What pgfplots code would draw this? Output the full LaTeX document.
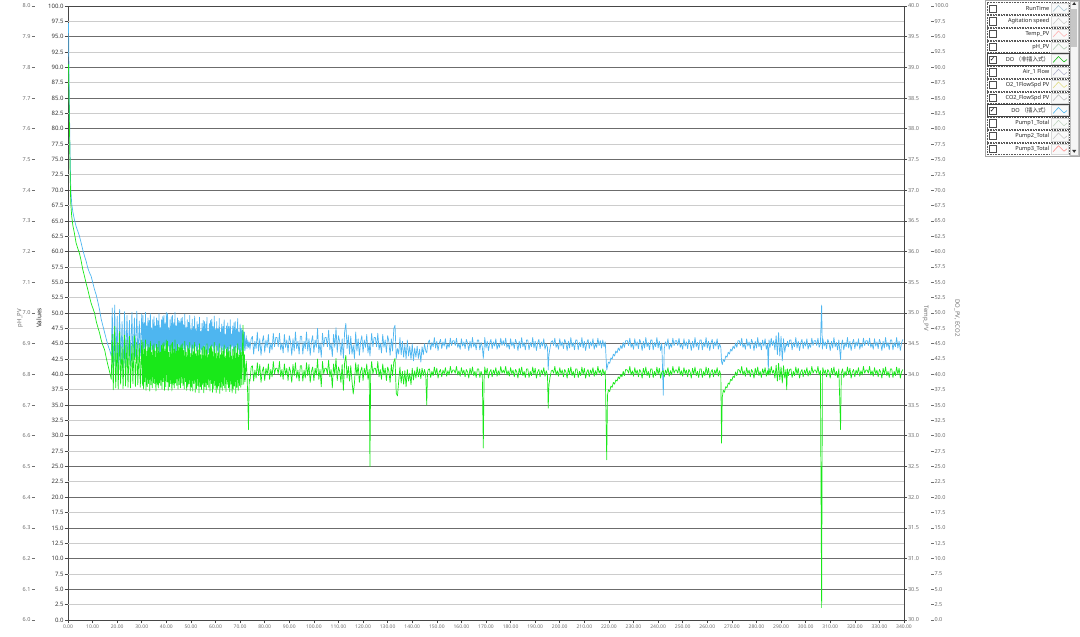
\documentclass[border=0pt]{standalone}
\usepackage{pgfplots}
\pgfplotsset{compat=1.18}
\usepackage{pgfplotstable}
\usepackage{fontspec}
\setmainfont{Noto Sans}
\newfontfamily\cjk{Noto Sans CJK SC}
\newfontfamily\dejavu{DejaVu Sans}
\definecolor{doblue}{RGB}{78,182,240}
\definecolor{dogreen}{RGB}{25,232,25}
\definecolor{axisgray}{RGB}{70,70,70}
\definecolor{labgray}{RGB}{110,110,110}
\pgfplotsset{/pgf/number format/assume math mode=true}

\pgfplotstableread{
x b g
0.2 97.2 90.5
0.5 86.0 83.0
0.8 77.0 74.5
1.1 70.5 68.0
1.5 67.8 65.8
2.0 66.4 64.2
2.6 65.2 63.0
3.3 64.1 61.4
4.0 63.3 60.5
4.6 62.6 59.8
5.3 61.5 58.6
6.0 60.3 57.1
6.7 59.3 56.0
7.4 58.4 54.8
8.0 57.4 53.9
8.7 56.6 52.7
9.4 56.0 51.6
10.1 54.9 50.8
10.8 53.8 50.0
11.5 52.9 48.6
12.2 51.7 47.6
12.8 50.6 46.8
13.5 49.0 45.6
14.2 47.9 44.7
14.9 46.8 44.0
15.6 45.7 42.6
16.3 44.7 41.4
17.0 43.9 40.3
17.6 43.0 39.2
18.0 50.8 46.5
18.4 40.0 37.5
19.0 51.3 47.8
19.4 41.0 37.8
20.0 49.5 45.2
20.4 39.8 37.6
21.0 50.6 47.0
21.4 41.8 38.4
22.0 48.6 44.5
22.4 40.6 37.7
23.0 50.2 46.4
23.4 41.2 38.1
24.0 49.6 45.6
24.4 42.3 37.9
25.0 48.8 46.2
25.4 41.4 37.8
26.0 50.1 45.0
26.4 42.0 38.5
27.0 49.2 46.3
27.4 42.8 38.0
28.0 50.3 45.3
28.4 42.4 38.3
29.0 48.7 44.9
29.4 43.0 37.9
30.0 49.9 45.6
30.25 43.5 38.2
30.50 49.6 45.2
30.75 44.2 37.6
31.00 48.4 44.1
31.25 43.0 38.8
31.50 50.1 45.6
31.75 44.6 37.4
32.00 47.9 43.8
32.25 43.8 38.0
32.50 49.2 44.9
32.75 43.2 38.5
33.00 48.8 44.4
33.25 44.4 37.3
33.50 49.9 45.4
33.75 43.6 38.3
34.00 47.6 43.6
34.25 44.0 37.8
34.50 48.9 44.7
34.75 43.3 38.6
35.00 49.4 45.0
35.25 43.2 38.5
35.50 47.9 43.8
35.75 44.4 37.3
36.00 49.2 44.9
36.25 43.6 38.3
36.50 48.8 44.4
36.75 44.0 37.8
37.00 49.9 45.4
37.25 43.3 38.6
37.50 47.6 43.6
37.75 43.5 38.2
38.00 48.9 44.7
38.25 44.2 37.6
38.50 49.4 45.0
38.75 43.0 38.8
39.00 49.6 45.2
39.25 44.6 37.4
39.50 48.4 44.1
39.75 43.8 38.0
40.00 50.1 45.6
40.25 43.0 38.8
40.50 49.9 45.4
40.75 44.6 37.4
41.00 47.6 43.6
41.25 43.8 38.0
41.50 48.9 44.7
41.75 43.2 38.5
42.00 49.4 45.0
42.25 44.4 37.3
42.50 49.6 45.2
42.75 43.6 38.3
43.00 48.4 44.1
43.25 44.0 37.8
43.50 50.1 45.6
43.75 43.3 38.6
44.00 47.9 43.8
44.25 43.5 38.2
44.50 49.2 44.9
44.75 44.2 37.6
45.00 48.8 44.4
45.25 43.6 38.3
45.50 48.6 44.5
45.75 44.0 37.8
46.00 49.1 44.8
46.25 43.3 38.6
46.50 49.3 45.0
46.75 43.5 38.2
47.00 48.1 43.9
47.25 44.2 37.6
47.50 49.8 45.4
47.75 43.0 38.8
48.00 47.6 43.6
48.25 44.6 37.4
48.50 48.9 44.7
48.75 43.8 38.0
49.00 48.5 44.2
49.25 43.2 38.5
49.50 49.6 45.2
49.75 44.4 37.3
50.00 47.3 43.4
50.25 43.5 37.9
50.50 49.0 44.8
50.75 44.2 37.3
51.00 47.8 43.7
51.25 43.0 38.5
51.50 49.5 45.2
51.75 44.6 37.1
52.00 47.3 43.4
52.25 43.8 37.7
52.50 48.6 44.5
52.75 43.2 38.2
53.00 48.2 44.0
53.25 44.4 37.0
53.50 49.3 45.0
53.75 43.6 38.0
54.00 47.0 43.2
54.25 44.0 37.5
54.50 48.3 44.3
54.75 43.3 38.3
55.00 48.8 44.6
55.25 44.4 37.0
55.50 48.6 44.5
55.75 43.6 38.0
56.00 48.2 44.0
56.25 44.0 37.5
56.50 49.3 45.0
56.75 43.3 38.3
57.00 47.0 43.2
57.25 43.5 37.9
57.50 48.3 44.3
57.75 44.2 37.3
58.00 48.8 44.6
58.25 43.0 38.5
58.50 49.0 44.8
58.75 44.6 37.1
59.00 47.8 43.7
59.25 43.8 37.7
59.50 49.5 45.2
59.75 43.2 38.2
60.00 47.3 43.4
60.25 44.6 37.0
60.50 48.6 44.6
60.75 43.8 37.6
61.00 47.4 43.5
61.25 43.2 38.1
61.50 49.1 45.0
61.75 44.4 36.9
62.00 46.9 43.2
62.25 43.6 37.9
62.50 48.2 44.3
62.75 44.0 37.4
63.00 47.8 43.8
63.25 43.3 38.2
63.50 48.9 44.8
63.75 43.5 37.8
64.00 46.6 43.0
64.25 44.2 37.2
64.50 47.9 44.1
64.75 43.0 38.4
65.00 48.4 44.4
65.25 43.5 37.8
65.50 47.8 43.8
65.75 44.2 37.2
66.00 48.9 44.8
66.25 43.0 38.4
66.50 46.6 43.0
66.75 44.6 37.0
67.00 47.9 44.1
67.25 43.8 37.6
67.50 48.4 44.4
67.75 43.2 38.1
68.00 48.6 44.6
68.25 44.4 36.9
68.50 47.4 43.5
68.75 43.6 37.9
69.00 49.1 45.0
69.25 44.0 37.4
69.50 46.9 43.2
69.75 43.3 38.2
70.00 48.2 44.3
70.25 43.7 37.9
70.50 47.5 43.6
70.75 43.1 38.3
71.00 47.2 45.0
71.20 46.8 48.0
71.50 43.8 38.4
71.75 46.9 43.2
72.00 43.9 38.8
72.50 46.3 42.2
72.80 44.2 40.0
73.10 45.6 36.5
73.40 44.4 31.0
73.70 45.3 39.2
74.00 44.1 38.9
74.50 45.8 41.2
75.0 46.2 41.4
75.5 43.3 38.9
76.0 45.4 40.7
76.5 44.2 39.4
77.0 46.9 41.9
77.5 43.8 39.8
78.0 45.8 41.6
78.5 43.1 38.7
79.0 45.3 40.5
79.5 46.3 41.2
80.0 43.6 39.0
80.5 45.6 41.0
81.0 44.4 39.9
81.5 46.5 41.7
82.0 43.5 39.2
82.5 45.1 40.8
83.0 44.0 39.6
83.5 46.7 42.1
84.0 44.5 40.1
84.5 46.0 41.0
85.0 46.0 41.0
85.5 44.5 40.1
86.0 46.7 42.1
86.5 44.0 39.6
87.0 45.1 40.8
87.5 43.5 39.2
88.0 46.5 41.7
88.5 44.4 39.9
89.0 45.6 41.0
89.5 43.6 39.0
90.0 46.3 41.2
90.5 45.3 40.5
91.0 43.1 38.7
91.5 45.8 41.6
92.0 43.8 39.8
92.5 46.9 41.9
93.0 44.2 39.4
93.5 45.4 40.7
94.0 43.3 38.9
94.5 46.2 41.4
95.0 46.2 41.4
95.5 43.3 38.9
96.0 45.4 40.7
96.5 44.2 39.4
97.0 46.9 41.9
97.5 43.8 39.8
98.0 45.8 41.6
98.5 43.1 38.7
99.0 45.3 40.5
99.5 46.3 41.2
100.0 43.6 39.0
100.5 45.6 41.0
101.0 44.4 39.9
101.5 47.5 42.5
102.0 43.5 39.2
102.5 45.1 40.8
103.0 42.8 38.0
103.5 46.7 42.1
104.0 44.5 40.1
104.5 46.0 41.0
105.0 46.0 41.0
105.5 44.5 40.1
106.0 47.2 42.3
106.5 44.0 39.6
107.0 45.1 40.8
107.5 42.9 37.8
108.0 46.5 41.7
108.5 44.4 39.9
109.0 47.6 42.6
109.5 43.6 39.0
110.0 46.3 41.2
110.5 45.3 40.5
111.0 43.1 38.7
111.5 45.8 41.6
112.0 42.6 37.4
112.5 46.9 41.9
113.0 48.3 43.1
113.5 44.2 39.4
114.0 46.4 41.3
114.5 43.3 38.9
115.0 46.2 41.4
115.5 43.3 38.9
116.0 44.8 36.8
116.5 42.6 38.6
117.0 46.9 41.9
117.5 43.8 39.8
118.0 45.8 41.6
118.5 43.1 38.7
119.0 45.3 40.5
119.5 46.3 41.2
120.0 43.6 39.0
120.5 45.6 41.0
121.0 44.4 39.9
121.5 46.5 41.7
122.0 43.5 39.2
122.5 45.1 40.8
122.8 43.0 25.0
123.1 44.6 40.3
123.5 46.7 42.1
124.0 44.5 40.1
124.5 46.0 41.0
125.0 46.0 41.0
125.5 44.5 40.1
126.0 46.7 42.1
126.5 44.0 39.6
127.0 45.1 40.8
127.5 43.5 39.2
128.0 46.5 41.7
128.5 44.4 39.9
129.0 45.6 41.0
129.5 43.6 39.0
130.0 46.3 41.2
130.5 45.3 40.5
131.0 43.1 38.7
131.5 45.8 41.6
132.0 43.8 39.8
132.5 47.4 42.0
133.0 48.0 42.6
133.5 42.6 36.9
134.0 44.2 36.5
134.5 43.3 38.9
135.0 46.0 41.2
135.5 43.2 38.6
136.0 45.4 40.5
136.5 42.8 38.4
137.0 44.9 40.6
137.5 42.5 38.0
138.0 45.6 40.8
138.5 43.0 38.9
139.0 44.6 40.2
139.5 42.4 38.3
140.0 45.0 41.0
140.5 42.2 39.1
141.0 44.3 40.6
141.5 42.8 39.4
142.0 44.6 41.2
142.5 42.6 39.6
143.0 44.1 40.9
143.5 42.0 39.3
144.0 44.5 41.0
144.5 43.2 39.8
145.0 45.0 40.8
145.5 43.8 39.9
145.9 43.5 35.0
146.2 44.6 40.2
146.5 45.2 40.8
147.0 45.6 40.9
147.5 44.0 39.5
148.0 45.2 40.5
148.5 44.5 39.8
149.0 46.0 41.2
149.5 44.3 40.0
150.0 45.4 41.0
150.5 43.9 39.4
151.0 45.1 40.4
151.5 45.7 40.8
152.0 44.2 39.6
152.5 45.3 40.7
153.0 44.6 40.1
153.5 45.8 41.1
154.0 44.1 39.7
154.5 45.0 40.6
155.0 44.4 39.9
155.5 45.9 41.3
156.0 44.7 40.2
156.5 45.5 40.7
157.0 45.5 40.7
157.5 44.7 40.2
158.0 45.9 41.3
158.5 44.4 39.9
159.0 45.0 40.6
159.5 44.1 39.7
160.0 45.8 41.1
160.5 44.6 40.1
161.0 45.3 40.7
161.5 44.2 39.6
162.0 45.7 40.8
162.5 45.1 40.4
163.0 43.9 39.4
163.5 45.4 41.0
164.0 44.3 40.0
164.5 46.0 41.2
165.0 44.5 39.8
165.5 45.2 40.5
166.0 44.0 39.5
166.5 45.6 40.9
167.0 45.6 40.9
167.5 44.0 39.5
168.0 45.2 40.5
168.5 44.5 39.8
168.9 42.6 28.0
169.2 44.2 39.0
169.5 46.0 41.2
170.0 44.3 40.0
170.5 45.4 41.0
171.0 43.9 39.4
171.5 45.1 40.4
172.0 45.7 40.8
172.5 44.2 39.6
173.0 45.3 40.7
173.5 44.6 40.1
174.0 45.8 41.1
174.5 44.1 39.7
175.0 45.0 40.6
175.5 44.4 39.9
176.0 45.9 41.3
176.5 44.7 40.2
177.0 45.5 40.7
177.5 44.7 40.2
178.0 45.9 41.3
178.5 44.4 39.9
179.0 45.0 40.6
179.5 44.1 39.7
180.0 45.8 41.1
180.5 44.6 40.1
181.0 45.3 40.7
181.5 44.2 39.6
182.0 45.7 40.8
182.5 45.1 40.4
183.0 43.9 39.4
183.5 45.4 41.0
184.0 44.3 40.0
184.5 46.0 41.2
185.0 44.5 39.8
185.5 45.2 40.5
186.0 44.0 39.5
186.5 45.6 40.9
187.0 45.6 40.9
187.5 44.0 39.5
188.0 45.2 40.5
188.5 44.5 39.8
189.0 46.0 41.2
189.5 44.3 40.0
190.0 45.4 41.0
190.5 43.9 39.4
191.0 45.1 40.4
191.5 45.7 40.8
192.0 44.2 39.6
192.5 45.3 40.7
193.0 44.6 40.1
193.5 45.8 41.1
194.0 44.1 39.7
194.5 45.0 40.6
195.0 44.4 39.9
195.3 40.7 34.5
195.6 43.2 38.3
196.0 44.2 39.4
196.5 45.3 40.5
197.0 45.5 40.7
197.5 44.7 40.2
198.0 45.9 41.3
198.5 44.4 39.9
199.0 45.0 40.6
199.5 44.1 39.7
200.0 45.8 41.1
200.5 44.6 40.1
201.0 45.3 40.7
201.5 44.2 39.6
202.0 45.7 40.8
202.5 45.1 40.4
203.0 43.9 39.4
203.5 45.4 41.0
204.0 44.3 40.0
204.5 46.0 41.2
205.0 44.5 39.8
205.5 45.2 40.5
206.0 44.0 39.5
206.5 45.6 40.9
207.0 45.6 40.9
207.5 44.0 39.5
208.0 45.2 40.5
208.5 44.5 39.8
209.0 46.0 41.2
209.5 44.3 40.0
210.0 45.4 41.0
210.5 43.9 39.4
211.0 45.1 40.4
211.5 45.7 40.8
212.0 44.2 39.6
212.5 45.3 40.7
213.0 44.6 40.1
213.5 45.8 41.1
214.0 44.1 39.7
214.5 45.0 40.6
215.0 44.4 39.9
215.5 45.9 41.3
216.0 44.7 40.2
216.5 45.5 40.7
217.0 44.3 39.8
217.5 45.6 40.9
218.0 44.5 40.0
218.5 45.3 40.6
219.1 40.7 26.1
219.4 41.3 36.6
219.8 42.0 37.5
220.3 41.8 37.2
220.8 42.7 38.1
221.3 42.5 37.9
221.8 43.3 38.7
222.3 43.0 38.4
222.8 43.8 39.1
223.3 43.5 38.9
223.8 44.3 39.6
224.3 43.9 39.3
224.8 44.7 40.0
225.3 44.2 39.6
225.8 45.2 40.5
226.3 44.4 39.8
226.8 45.5 40.8
227.5 45.5 40.7
228.0 44.7 40.2
228.5 45.9 41.3
229.0 44.4 39.9
229.5 45.0 40.6
230.0 44.1 39.7
230.5 45.8 41.1
231.0 44.6 40.1
231.5 45.3 40.7
232.0 44.2 39.6
232.5 45.7 40.8
233.0 45.1 40.4
233.5 43.9 39.4
234.0 45.4 41.0
234.5 44.3 40.0
235.0 46.0 41.2
235.5 44.5 39.8
236.0 45.2 40.5
236.5 44.0 39.5
237.0 45.6 40.9
237.5 45.6 40.9
238.0 44.0 39.5
238.5 45.2 40.5
239.0 44.5 39.8
239.5 46.0 41.2
240.0 44.3 40.0
240.5 45.4 41.0
241.0 43.9 39.4
241.5 45.1 40.4
242.1 36.6 40.6
242.5 44.2 39.6
243.0 45.3 40.7
243.5 44.6 40.1
244.0 45.8 41.1
244.5 44.1 39.7
245.0 45.0 40.6
245.5 44.4 39.9
246.0 45.9 41.3
246.5 44.7 40.2
247.0 45.5 40.7
247.5 45.5 40.7
248.0 44.7 40.2
248.5 45.9 41.3
249.0 44.4 39.9
249.5 45.0 40.6
250.0 44.1 39.7
250.5 45.8 41.1
251.0 44.6 40.1
251.5 45.3 40.7
252.0 44.2 39.6
252.5 45.7 40.8
253.0 45.1 40.4
253.5 43.9 39.4
254.0 45.4 41.0
254.5 44.3 40.0
255.0 46.0 41.2
255.5 44.5 39.8
256.0 45.2 40.5
256.5 44.0 39.5
257.0 45.6 40.9
257.5 45.6 40.9
258.0 44.0 39.5
258.5 45.2 40.5
259.0 44.5 39.8
259.5 46.0 41.2
260.0 44.3 40.0
260.5 45.4 41.0
261.0 43.9 39.4
261.5 45.1 40.4
262.0 45.7 40.8
262.5 44.2 39.6
263.0 45.3 40.7
263.5 44.6 40.1
264.0 45.8 41.1
264.5 44.1 39.7
265.0 45.0 40.6
265.5 44.4 39.9
265.8 42.1 28.8
266.1 41.6 36.3
266.5 42.4 37.4
267.0 42.1 37.1
267.5 43.0 38.0
268.0 42.8 37.8
268.5 43.6 38.6
269.0 43.3 38.4
269.5 44.1 39.2
270.0 43.8 39.0
270.5 44.6 39.7
271.0 44.2 39.5
271.5 45.1 40.4
272.0 44.4 39.8
272.5 45.5 40.8
273.0 45.5 40.7
273.5 44.7 40.2
274.0 45.9 41.3
274.5 44.4 39.9
275.0 45.0 40.6
275.5 44.1 39.7
276.0 45.8 41.1
276.5 44.6 40.1
277.0 45.3 40.7
277.5 44.2 39.6
278.0 45.7 40.8
278.5 45.1 40.4
279.0 43.9 39.4
279.5 45.4 41.0
280.0 44.3 40.0
280.5 46.0 41.2
281.0 44.5 39.8
281.5 45.2 40.5
282.0 44.0 39.5
282.5 45.6 40.9
283.0 44.6 40.1
283.5 45.8 41.1
284.0 44.1 39.7
284.5 45.0 40.6
284.8 40.4 39.9
285.1 45.6 41.0
285.5 44.4 39.9
286.0 45.9 41.3
286.5 44.7 40.2
287.0 45.5 40.7
287.5 44.0 39.4
288.0 46.3 41.5
288.5 43.2 38.9
289.0 46.8 41.8
289.5 43.0 39.1
290.0 46.2 41.2
290.5 42.2 38.6
291.0 45.8 41.4
291.5 43.6 39.4
292.0 45.0 40.8
292.3 44.6 37.5
292.6 45.4 40.9
293.0 44.5 39.8
293.5 45.6 40.8
294.0 45.6 40.9
294.5 44.0 39.5
295.0 45.2 40.5
295.5 44.5 39.8
296.0 46.0 41.2
296.5 44.3 40.0
297.0 45.4 41.0
297.5 43.9 39.4
298.0 45.1 40.4
298.5 45.7 40.8
299.0 44.2 39.6
299.5 45.3 40.7
300.0 44.6 40.1
300.5 45.8 41.1
301.0 44.1 39.7
301.5 45.0 40.6
302.0 44.4 39.9
302.5 45.9 41.3
303.0 44.7 40.2
303.5 45.5 40.7
304.0 45.5 40.7
304.5 44.7 40.2
305.0 45.9 41.3
305.5 44.4 39.9
306.0 45.0 40.6
306.5 51.3 2.0
306.8 44.1 39.7
307.0 45.8 41.1
307.5 44.6 40.1
308.0 45.3 40.7
308.5 44.2 39.6
309.0 45.7 40.8
309.5 45.1 40.4
310.0 43.9 39.4
310.5 45.4 41.0
311.0 44.3 40.0
311.5 46.0 41.2
312.0 44.5 39.8
312.5 45.2 40.5
313.0 44.0 39.5
313.5 45.6 40.9
314.2 42.4 31.0
314.5 44.8 40.2
315.0 45.6 40.9
315.5 44.0 39.5
316.0 45.2 40.5
316.5 44.5 39.8
317.0 46.0 41.2
317.5 44.3 40.0
318.0 45.4 41.0
318.5 43.9 39.4
319.0 45.1 40.4
319.5 45.7 40.8
320.0 44.2 39.6
320.5 45.3 40.7
321.0 44.6 40.1
321.5 45.8 41.1
322.0 44.1 39.7
322.5 45.0 40.6
323.0 44.4 39.9
323.5 45.9 41.3
324.0 44.7 40.2
324.5 45.5 40.7
325.0 45.5 40.7
325.5 44.7 40.2
326.0 45.9 41.3
326.5 44.4 39.9
327.0 45.0 40.6
327.5 44.1 39.7
328.0 45.8 41.1
328.5 44.6 40.1
329.0 45.3 40.7
329.5 44.2 39.6
330.0 45.7 40.8
330.5 45.1 40.4
331.0 43.9 39.4
331.5 45.4 41.0
332.0 44.3 40.0
332.5 46.0 41.2
333.0 44.5 39.8
333.5 45.2 40.5
334.0 44.0 39.5
334.5 45.6 40.9
335.0 45.6 40.9
335.5 44.0 39.5
336.0 45.2 40.5
336.5 44.5 39.8
337.0 46.0 41.2
337.5 44.3 40.0
338.0 45.4 41.0
338.5 43.9 39.4
339.0 45.1 40.4
339.5 45.7 40.8
}\dodata

\newcommand\legrow[5]{%
  \pgfmathsetmacro\yc{628.5-12.75*#1}%
  \begin{scope}[yshift=\yc pt]
  \draw[#5] (987,-5.9) rectangle (1069,5.9);
  \draw[black!70, line width=0.4pt, fill=white] (989,-3.6) rectangle (996.2,3.6);
  \ifnum#4=1 \node[inner sep=0pt, font=\dejavu\fontsize{6.5}{7}\selectfont] at (992.6,0.2) {✓};\fi
  \node[anchor=east, inner sep=0pt, font=\fontsize{5.6}{6}\selectfont, text=black!85] at (1049.5,0) {#2};
  \draw[gray!30, fill=gray!5] (1051.5,-5) rectangle (1068,5);
  \draw[#3, line width=0.6pt, line join=round] (1053,-3) -- (1058.5,3) -- (1064,-2.5) -- (1067,0);
  \end{scope}}

\begin{document}
\begin{tikzpicture}[x=1pt,y=1pt]
% main axis
\begin{axis}[
  at={(68pt,17pt)}, anchor=south west, scale only axis,
  width=836pt, height=614pt,
  xmin=0, xmax=340, ymin=0, ymax=100,
  axis line style={axisgray, line width=0.6pt},
  xtick={0,10,...,340},
  xticklabel={\pgfmathprintnumber[fixed,fixed zerofill,precision=2]{\tick}},
  ytick={0,5,...,100},
  yticklabel={\pgfmathprintnumber[fixed,fixed zerofill,precision=1]{\tick}},
  extra y ticks={2.5,7.5,...,97.5},
  extra y tick style={grid=major, major grid style={gray!40, line width=0.7pt}},
  tick align=outside, major tick length=3.5pt,
  xtick pos=bottom, ytick pos=left,
  tick style={axisgray, line width=0.6pt},
  ymajorgrids, major grid style={gray!85!black, line width=0.6pt},
  xticklabel style={font=\fontsize{5}{6}\selectfont, text=labgray, inner sep=1pt},
  yticklabel style={font=\fontsize{6}{7}\selectfont\bfseries, text=black!80, inner sep=0.8pt},
]
\addplot[doblue, line width=0.7pt, line join=round] table[x=x, y=b] {\dodata};
\addplot[dogreen, line width=0.7pt, line join=round] table[x=x, y=g] {\dodata};
\end{axis}
% pH axis (left, outer)
\begin{axis}[
  at={(35pt,17pt)}, anchor=south west, scale only axis,
  width=1pt, height=614pt, xmin=0, xmax=1, ymin=0, ymax=100,
  hide x axis, axis y line*=left, y axis line style={draw=none},
  ytick={0,5,...,100},
  yticklabels={6.0,6.1,6.2,6.3,6.4,6.5,6.6,6.7,6.8,6.9,7.0,7.1,7.2,7.3,7.4,7.5,7.6,7.7,7.8,7.9,8.0},
  tick align=outside, major tick length=3.5pt,
  tick style={labgray, line width=0.6pt},
  yticklabel style={font=\fontsize{5.5}{6}\selectfont, text=labgray, inner sep=0.8pt},
]
\end{axis}
% Temp axis (right, inner)
\begin{axis}[
  at={(904pt,17pt)}, anchor=south east, scale only axis,
  width=1pt, height=614pt, xmin=0, xmax=1, ymin=0, ymax=100,
  hide x axis, axis y line*=right, y axis line style={draw=none},
  ytick={0,5,...,100},
  yticklabels={30.0,30.5,31.0,31.5,32.0,32.5,33.0,33.5,34.0,34.5,35.0,35.5,36.0,36.5,37.0,37.5,38.0,38.5,39.0,39.5,40.0},
  tick align=outside, major tick length=3pt,
  tick style={axisgray, line width=0.6pt},
  yticklabel style={font=\fontsize{5.5}{6}\selectfont, text=labgray, inner sep=0.8pt},
]
\end{axis}
% DO_PV, ECO2 axis (right, outer)
\begin{axis}[
  at={(931pt,17pt)}, anchor=south east, scale only axis,
  width=1pt, height=614pt, xmin=0, xmax=1, ymin=0, ymax=100,
  hide x axis, axis y line*=right, y axis line style={draw=none},
  ytick={0,2.5,...,100},
  yticklabel={\pgfmathprintnumber[fixed,fixed zerofill,precision=1]{\tick}},
  tick align=outside, major tick length=2.5pt,
  tick style={labgray, line width=0.6pt},
  yticklabel style={font=\fontsize{5.5}{6}\selectfont, text=labgray, inner sep=0.8pt},
]
\end{axis}
% axis titles
\node[rotate=90, font=\fontsize{6}{7}\selectfont, text=labgray] at (20,319) {pH\_PV};
\node[rotate=90, font=\fontsize{6.5}{7}\selectfont\bfseries, text=black!85] at (39,319) {Values};
\node[rotate=-90, font=\fontsize{6}{7}\selectfont, text=labgray] at (925.5,319) {Temp\_PV};
\node[rotate=-90, font=\fontsize{6}{7}\selectfont, text=labgray] at (957,319) {DO\_PV, ECO2};
% legend panel
\draw[gray!70, fill=white] (985,481) rectangle (1079,636.5);
\legrow{0}{RunTime}{cyan!35!gray!60}{0}{black!65, dash pattern=on 0.8pt off 0.8pt, line width=0.4pt}
\legrow{1}{Agitation speed}{gray!40}{0}{black!65, dash pattern=on 0.8pt off 0.8pt, line width=0.4pt}
\legrow{2}{Temp\_PV}{red!30}{0}{black!65, dash pattern=on 0.8pt off 0.8pt, line width=0.4pt}
\legrow{3}{pH\_PV}{green!20!gray!50}{0}{black!65, dash pattern=on 0.8pt off 0.8pt, line width=0.4pt}
\legrow{4}{DO {\cjk （非插入式）}}{dogreen!80!black}{1}{black!75, line width=0.5pt}
\legrow{5}{Air\_1 Flow}{blue!20!gray!50}{0}{black!65, dash pattern=on 0.8pt off 0.8pt, line width=0.4pt}
\legrow{6}{O2\_1FlowSpd PV}{yellow!60!gray!70}{0}{black!65, dash pattern=on 0.8pt off 0.8pt, line width=0.4pt}
\legrow{7}{CO2\_FlowSpd PV}{gray!50}{0}{black!65, dash pattern=on 0.8pt off 0.8pt, line width=0.4pt}
\legrow{8}{DO {\cjk （插入式）}}{doblue}{1}{black!75, line width=0.5pt}
\legrow{9}{Pump1\_Total}{green!20!gray!40}{0}{black!65, dash pattern=on 0.8pt off 0.8pt, line width=0.4pt}
\legrow{10}{Pump2\_Total}{gray!45}{0}{black!65, dash pattern=on 0.8pt off 0.8pt, line width=0.4pt}
\legrow{11}{Pump3\_Total}{red!45}{0}{black!65, dash pattern=on 0.8pt off 0.8pt, line width=0.4pt}
% scrollbar
\draw[gray!50, fill=gray!8] (1070,482) rectangle (1078.5,636);
\fill[gray!45] (1071.2,590) rectangle (1077.3,628);
\fill[black!80] (1072.2,632) -- (1076.2,632) -- (1074.2,634.8) -- cycle;
\fill[black!80] (1072.2,487) -- (1076.2,487) -- (1074.2,484.2) -- cycle;
\pgfresetboundingbox
\path[use as bounding box] (0,0) rectangle (1080,637);
\end{tikzpicture}
\end{document}
